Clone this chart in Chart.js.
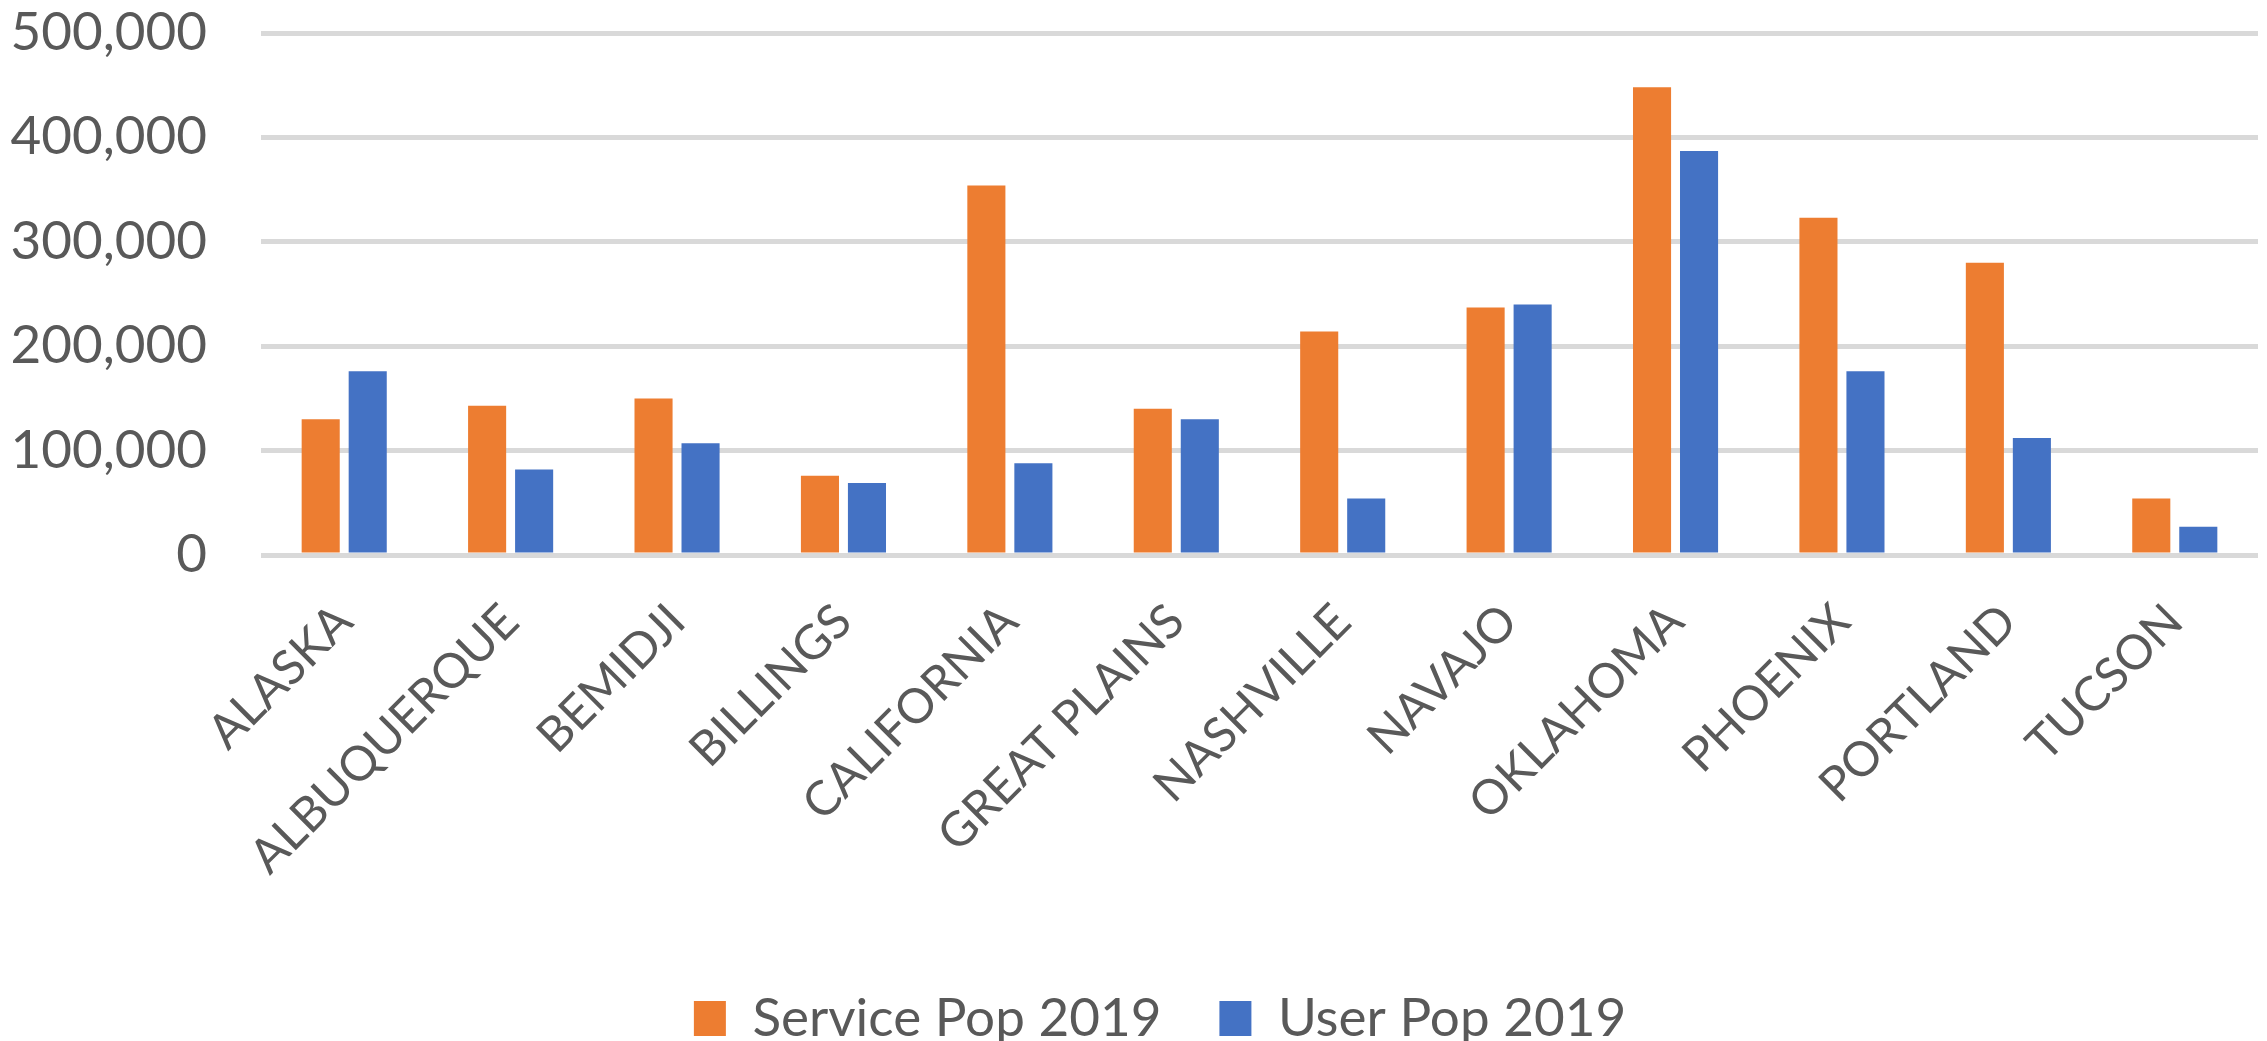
<!DOCTYPE html>
<html>
<head>
<meta charset="utf-8">
<script src="https://cdn.jsdelivr.net/npm/chart.js@4.4.1/dist/chart.umd.min.js"></script>
<style>
  html, body { margin: 0; padding: 0; background: #fff; }
  #wrap { width: 2267px; height: 1041px; }
</style>
</head>
<body>
<div id="wrap"><canvas id="myChart" width="2267" height="1041"></canvas></div>
<script>
// areas and populations
const areas = ["ALASKA", "ALBUQUERQUE", "BEMIDJI", "BILLINGS", "CALIFORNIA", "GREAT PLAINS",
  "NASHVILLE", "NAVAJO", "OKLAHOMA", "PHOENIX", "PORTLAND", "TUCSON"];
const servicePop = [130000, 143000, 150000, 76000, 354000, 140000, 214000, 237000, 448000, 323000, 280000, 54000];
const userPop = [176000, 82000, 107000, 69000, 88000, 130000, 54000, 240000, 387000, 176000, 112000, 27000];
const yTicks = [0, 100000, 200000, 300000, 400000, 500000];

const textColor = "#595959";

// nudge the legend a bit right, like the excel original
const legendShift = {
  id: "legendShift",
  afterLayout(chart) {
    if (chart.legend) chart.legend.left += 62;
  },
};

const ctx = document.getElementById("myChart").getContext("2d");
new Chart(ctx, {
  type: "bar",
  data: {
    labels: areas,
    datasets: [
      { label: "Service Pop 2019", data: servicePop, backgroundColor: "#ED7D31" },
      { label: "User Pop 2019", data: userPop, backgroundColor: "#4472C4" },
    ],
  },
  plugins: [legendShift],
  options: {
    responsive: false,
    animation: false,
    categoryPercentage: 0.565,
    barPercentage: 0.81,
    layout: { padding: { top: 33, right: 9, left: 0, bottom: -14 } },
    plugins: {
      tooltip: { enabled: false },
      legend: {
        position: "bottom",
        labels: {
          font: { family: "Lato", size: 53 },
          color: textColor,
          boxWidth: 32,
          boxHeight: 35,
          padding: 58,
        },
      },
    },
    scales: {
      x: {
        grid: { display: false },
        border: { display: false },
        ticks: {
          font: { family: "Lato", size: 48 },
          color: textColor,
          minRotation: 45,
          maxRotation: 45,
          padding: 30,
        },
        afterFit: (scale) => { scale.height = 379; },
      },
      y: {
        min: 0,
        max: 500000,
        afterBuildTicks: (scale) => { scale.ticks = yTicks.map((v) => ({ value: v })); },
        grid: { color: "#d9d9d9", lineWidth: 5, drawTicks: false },
        border: { display: false },
        ticks: {
          font: { family: "Lato", size: 53 },
          color: textColor,
          padding: 54,
          callback: (v) => v.toLocaleString("en-US"),
        },
        afterFit: (scale) => {
          scale.width = 261;
          scale.paddingTop = 0;
          scale.paddingBottom = 0;
        },
      },
    },
  },
});
</script>
</body>
</html>
